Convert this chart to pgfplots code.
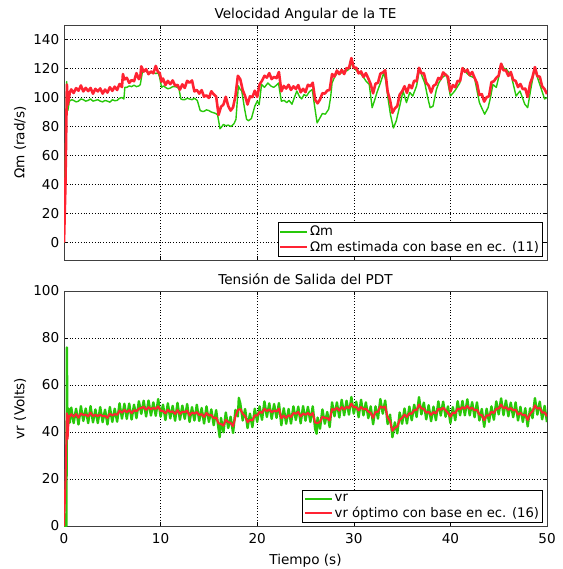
\documentclass[border=0pt]{standalone}
\usepackage{fontspec}
\setmainfont{DejaVu Sans}
\usepackage{pgfplots}
\pgfplotsset{compat=1.18}
\definecolor{cgreen}{RGB}{40,200,10}
\definecolor{cred}{RGB}{255,35,50}
\newcommand{\fs}{\fontsize{13.6}{16}\selectfont}
\newcommand{\fl}{\fontsize{13.2}{16}\selectfont}
\pgfplotsset{
  legend image code/.code={\draw[#1,line width=1.6pt] (0pt,0pt) -- (27pt,0pt);},
  myax/.style={
    scale only axis, width=483pt, height=235pt, xmin=0, xmax=50,
    xtick={0,10,...,50},
    grid=major,
    major grid style={black, line width=0.6pt, dash pattern=on 0.8pt off 2pt},
    axis line style={black!75, line width=0.9pt},
    tick style={black, line width=0.6pt}, major tick length=4pt,
    tick label style={font=\fs},
    xticklabel style={yshift=-3pt},
    /pgf/number format/assume math mode=true,
    label style={font=\fs},
    title style={font=\fs, at={(0.5,1)}, anchor=base, yshift=0pt},
    legend style={at={(1,0)}, anchor=south east, xshift=-4pt, yshift=3pt,
      draw=black, line width=0.8pt, font=\fl, inner sep=1.5pt, row sep=-1pt,
      cells={anchor=west}},
    ylabel style={at={(axis description cs:-0.091,0.5)}, anchor=center},
  }
}
\begin{document}
\fs
\begin{tikzpicture}
\begin{axis}[myax, at={(64pt,309pt)}, anchor=south west,
  ymin=-12, ymax=150, ytick={0,20,...,140}, xticklabels={},
  title={Velocidad Angular de la TE}, ylabel={Ωm (rad/s)}]
\addplot[cgreen, line width=1.4pt, line join=round] coordinates {
(0,0) (0.28,111) (0.4,91) (0.55,97.5) (0.8,98.5) (1.0,98) (1.25,97) (1.5,97.5) (1.75,99) (2.0,98.5) (2.25,97.5) (2.5,98) (2.75,99) (3.0,97.5) (3.25,98) (3.5,98.5) (3.75,97.5) (4.0,97) (4.25,98) (4.5,97.5) (4.75,96.8) (5.0,98.5) (5.25,97.8) (5.5,98) (5.75,99.5) (6.0,100) (6.2,99) (6.3,107) (6.5,107) (6.75,108) (7.0,107.5) (7.25,108.5) (7.5,107.5) (7.75,108) (7.9,109) (8.1,117) (8.3,118.5) (8.5,118) (8.75,117) (9.0,117) (9.25,117.5) (9.5,116.5) (9.75,117) (9.9,114) (10.1,107) (10.3,108) (10.5,107) (10.75,106) (11.0,106.5) (11.25,107.5) (11.5,107.5) (11.75,107) (11.9,106) (12.1,99) (12.3,98.5) (12.5,98.5) (12.75,99.5) (13.0,99) (13.25,98.5) (13.5,99.5) (13.8,98) (14.1,91) (14.3,90.5) (14.5,90.5) (14.75,91.5) (15.0,91) (15.25,90) (15.5,89.5) (15.7,89) (15.9,88) (16.15,78.5) (16.35,80) (16.5,81.5) (16.75,80.5) (17.0,81) (17.3,80) (17.6,82) (17.8,85) (18.05,108) (18.2,106) (18.4,104.5) (18.7,92) (18.9,85) (19.1,84) (19.4,85.5) (19.75,94) (20.0,97.5) (20.2,95) (20.45,109) (20.75,107) (21.1,110) (21.4,108) (21.7,107) (22.0,108.5) (22.2,110) (22.5,97.5) (22.8,98) (23.05,96.5) (23.3,98) (23.6,95.4) (23.85,100) (24.1,104.5) (24.35,101) (24.6,99) (24.85,102) (25.1,101) (25.4,104) (25.7,105.5) (25.9,96) (26.2,82.5) (26.5,86) (26.75,89) (27.05,88.5) (27.4,92) (27.6,100) (27.75,110) (28.0,114) (28.3,117) (28.6,116.5) (28.9,118) (29.3,118.5) (29.55,120) (29.8,124) (30.05,120) (30.35,118) (30.7,116.5) (31.0,114) (31.3,111) (31.6,109) (31.9,93) (32.15,98) (32.4,103.5) (32.75,110) (33.1,117) (33.3,112) (33.55,99) (33.8,88) (34.1,79) (34.4,84) (34.75,94) (35.1,104.5) (35.45,96.5) (35.8,103.5) (36.1,101) (36.5,108) (36.8,119.5) (37.05,115) (37.35,110) (37.65,100) (37.9,93) (38.2,94) (38.55,105.5) (38.8,110) (39.1,113.5) (39.6,116) (39.8,108) (40.0,101) (40.45,104.5) (40.97,110) (41.3,120.5) (41.65,117) (42.0,115) (42.5,113.5) (42.75,105) (43.0,96.5) (43.3,92) (43.55,88.5) (43.9,93) (44.15,100) (44.4,109) (44.75,107) (45.0,114) (45.3,123) (45.55,120) (45.8,119.5) (46.3,115) (46.55,108) (46.8,101) (47.2,104.5) (47.45,100) (47.7,95.4) (48.0,93) (48.3,105) (48.7,119.5) (49.0,114) (49.25,109) (49.5,104) (49.75,99) (50,100)
};
\addlegendentry{Ωm}
\addplot[cred, line width=2.6pt, line join=round] coordinates {
(0,0) (0.15,40) (0.3,109) (0.4,95) (0.6,103.5) (0.75,105.6) (1.0,103.1) (1.25,106.5) (1.5,104.7) (1.75,108.3) (2.0,104.2) (2.25,106.7) (2.5,104.4) (2.75,106.6) (3.0,102.6) (3.25,106) (3.5,104.2) (3.75,106.3) (4.0,102.7) (4.25,105.5) (4.5,103.4) (4.75,107.1) (5.0,104.6) (5.25,107.5) (5.5,105.2) (5.75,109.3) (6.0,107.2) (6.1,116.2) (6.25,112.4) (6.5,113.6) (6.75,110.1) (7.0,112) (7.25,111.2) (7.5,116.8) (7.75,112.7) (7.9,114.2) (8.0,121.5) (8.25,117.9) (8.5,119.6) (8.75,116.1) (9.0,118) (9.25,116.7) (9.5,121.8) (9.75,117.2) (9.9,117.2) (10.1,110.9) (10.25,113.1) (10.5,108.6) (10.75,111.5) (11.0,109.2) (11.25,111.8) (11.5,108.2) (11.75,108.7) (12.0,105.4) (12.25,109.1) (12.5,106.6) (12.75,111.5) (13.0,110.2) (13.25,111.8) (13.5,104.2) (13.75,105.2) (14.0,102.7) (14.25,105.1) (14.5,100.6) (14.75,101.5) (15.0,99.7) (15.25,104.3) (15.5,102.2) (15.75,100.7) (16.0,88) (16.25,93.6) (16.5,95.1) (16.75,100.5) (17.0,94.2) (17.25,91) (17.5,93.2) (17.75,101.2) (18.0,115) (18.25,112.6) (18.5,105.1) (18.75,101) (19.0,95.2) (19.25,100.8) (19.5,100.2) (19.75,104.7) (20.0,100.4) (20.25,109.1) (20.5,111.6) (20.75,115) (21.0,113.7) (21.25,116.8) (21.5,112.7) (21.75,114.2) (22.0,113.4) (22.25,117.6) (22.5,104.3) (22.75,108) (23.0,106.2) (23.25,108.8) (23.5,105.2) (23.75,107.7) (24.0,105.9) (24.25,108.6) (24.5,103.6) (24.75,106) (25.0,103.7) (25.25,108.8) (25.5,107.7) (25.75,110.2) (26.0,98.4) (26.25,96) (26.5,98.6) (26.75,103) (27.0,102.7) (27.25,104.8) (27.5,105.2) (27.75,116.2) (28.0,114.4) (28.25,118.6) (28.5,116.1) (28.75,119) (29.0,116.2) (29.25,120.3) (29.5,120.2) (29.75,127.2) (30.0,120.4) (30.25,120.6) (30.5,116.6) (30.75,118) (31.0,114.2) (31.25,116.8) (31.5,113.2) (31.75,109.2) (32.0,102.9) (32.25,109.6) (32.5,110.1) (32.75,116.5) (33.0,117.2) (33.25,118.8) (33.5,104.2) (33.75,98.2) (34.0,89.4) (34.25,92.6) (34.5,94.1) (34.75,102) (35.0,104.2) (35.25,107.8) (35.5,103.2) (35.75,108.7) (36.0,106.4) (36.25,111.6) (36.5,111.2) (36.75,120.5) (37.0,116.7) (37.25,116.8) (37.5,110.2) (37.75,108.2) (38.0,103.4) (38.25,108.1) (38.5,109.1) (38.75,113.5) (39.0,112.7) (39.25,117.3) (39.5,115.7) (39.75,114.2) (40.0,104.1) (40.25,108.6) (40.5,107.1) (40.75,111.5) (41.0,111.2) (41.25,120.3) (41.5,117.7) (41.75,119.2) (42.0,115.4) (42.25,117.6) (42.5,113.6) (42.75,110) (43.0,101.7) (43.25,102.3) (43.5,97.2) (43.75,100.2) (44.0,100.9) (44.25,110.6) (44.5,111.2) (44.75,113.6) (45.0,115.2) (45.25,123.3) (45.5,118.7) (45.75,118.7) (46.0,114.9) (46.25,117.6) (46.5,112.1) (46.75,111.5) (47.0,107.2) (47.25,109.3) (47.5,105.7) (47.75,106.2) (48.0,100.4) (48.25,109.6) (48.5,114.1) (48.75,121) (49.0,114.7) (49.25,114.4) (49.5,107.7) (49.75,105.8) (50.0,102.4)
};
\addlegendentry{Ωm estimada con base en ec. (11)}
\end{axis}
\begin{axis}[myax, at={(64pt,43pt)}, anchor=south west,
  ymin=0, ymax=100, ytick={0,20,...,100},
  title={Tensión de Salida del PDT}, ylabel={vr (Volts)}, xlabel={Tiempo (s)},
  xlabel style={at={(axis description cs:0.5,0)}, anchor=center, yshift=-35pt}]
\addplot[cgreen, line width=2.4pt, line join=round] coordinates {
(0,0) (0.25,0) (0.3,76) (0.35,38) (0.45,50) (0.6,44) (0.75,50.4) (1.0,43.8) (1.25,49.9) (1.5,43.2) (1.75,51.0) (2.0,44.7) (2.25,50.0) (2.5,43.8) (2.75,51.0) (3.0,44.1) (3.25,49.6) (3.5,43.8) (3.75,50.6) (4.0,44.2) (4.25,49.5) (4.5,43.2) (4.75,50.6) (5.0,44.3) (5.25,49.9) (5.5,44.4) (5.75,52.2) (6.0,45.7) (6.25,52.0) (6.5,45.6) (6.75,52.1) (7.0,45.3) (7.25,51.6) (7.5,45.9) (7.75,53.1) (8.0,47.7) (8.25,53.3) (8.5,46.6) (8.75,53.4) (9.0,47.0) (9.25,52.6) (9.5,46.9) (9.75,54.0) (10.0,46.5) (10.25,51.6) (10.5,45.1) (10.75,52.2) (11.0,45.8) (11.25,51.1) (11.5,44.8) (11.75,52.4) (12.0,45.2) (12.25,51.2) (12.5,45.6) (12.75,51.9) (13.0,44.3) (13.25,50.6) (13.5,44.9) (13.75,51.6) (14.0,44.7) (14.25,50.2) (14.5,43.6) (14.75,50.9) (15.0,44.3) (15.25,49.6) (15.5,42.9) (15.75,49.3) (16.0,41.2) (16.12,37.8) (16.25,46.0) (16.5,39.9) (16.75,48.3) (17.0,41.7) (17.25,46.5) (17.5,39.6) (17.75,49.4) (18.0,46.6) (18.1,54.5) (18.25,52.1) (18.5,44.9) (18.75,49.8) (19.0,41.7) (19.25,47.8) (19.5,42.1) (19.75,49.9) (20.0,44.3) (20.25,50.9) (20.5,45.2) (20.75,53.0) (21.0,46.4) (21.25,52.2) (21.5,45.6) (21.75,51.9) (22.0,46.0) (22.25,52.3) (22.5,42.9) (22.75,50.1) (23.0,43.5) (23.25,49.8) (23.5,43.6) (23.75,50.9) (24.0,45.1) (24.25,50.8) (24.5,43.7) (24.75,51.0) (25.0,44.8) (25.25,50.7) (25.5,44.3) (25.75,50.9) (26.0,41.3) (26.15,39.3) (26.25,46.1) (26.5,41.4) (26.75,49.6) (27.0,43.5) (27.25,48.5) (27.5,42.1) (27.75,52.6) (28.0,46.7) (28.25,52.6) (28.5,46.2) (28.75,53.7) (29.0,47.1) (29.25,53.3) (29.5,47.4) (29.75,54.9) (30.0,47.8) (30.25,52.9) (30.5,46.3) (30.75,53.7) (31.0,47.1) (31.25,52.6) (31.5,45.9) (31.75,50.9) (32.0,43.3) (32.25,50.9) (32.5,45.7) (32.75,54.0) (33.0,47.8) (33.25,53.4) (33.5,43.4) (33.75,47.4) (34.0,37.8) (34.25,44.1) (34.5,39.4) (34.75,48.3) (35.0,43.5) (35.25,50.0) (35.5,43.6) (35.75,50.8) (36.0,45.0) (36.25,51.6) (36.5,46.4) (36.75,54.8) (37.0,47.5) (37.25,52.5) (37.5,45.4) (37.75,51.4) (38.0,44.6) (38.25,50.8) (38.5,45.0) (38.75,53.0) (39.0,47.0) (39.25,52.9) (39.5,46.5) (39.75,50.9) (40.0,43.8) (40.25,50.6) (40.5,45.0) (40.75,53.1) (41.0,47.1) (41.25,53.2) (41.5,47.1) (41.75,53.9) (42.0,47.1) (42.25,52.7) (42.5,46.3) (42.75,52.6) (43.0,44.9) (43.25,49.8) (43.5,42.2) (43.75,49.9) (44.0,44.3) (44.25,50.9) (44.5,45.2) (44.75,53.0) (45.0,47.5) (45.25,54.3) (45.5,47.2) (45.75,53.4) (46.0,46.7) (46.25,52.5) (46.5,46.3) (46.75,52.6) (47.0,44.9) (47.25,50.7) (47.5,44.3) (47.75,50.1) (48.0,42.4) (48.25,50.1) (48.5,45.9) (48.75,54.4) (49.0,47.4) (49.25,52.9) (49.5,45.4) (49.75,51.1) (50.0,44.2)
};
\addlegendentry{vr}
\addplot[cred, line width=2pt, line join=round] coordinates {
(0,0) (0.15,18) (0.3,48) (0.37,37) (0.5,47) (0.6,46.5) (0.75,47.6) (1.0,46.5) (1.25,47.6) (1.5,46.1) (1.75,47.9) (2.0,47.2) (2.25,47.4) (2.5,46.6) (2.75,48.2) (3.0,46.8) (3.25,47.3) (3.5,46.7) (3.75,47.5) (4.0,46.7) (4.25,46.9) (4.5,46.0) (4.75,47.8) (5.0,47.0) (5.25,47.6) (5.5,47.3) (5.75,49.1) (6.0,48.2) (6.25,49.4) (6.5,48.4) (6.75,49.3) (7.0,48.0) (7.25,49.3) (7.5,48.8) (7.75,50.0) (8.0,50.2) (8.25,50.7) (8.5,49.4) (8.75,50.6) (9.0,49.7) (9.25,50.3) (9.5,49.8) (9.75,50.9) (10.0,49.0) (10.25,49.0) (10.5,47.9) (10.75,49.4) (11.0,48.5) (11.25,48.8) (11.5,47.7) (11.75,49.3) (12.0,47.7) (12.25,48.6) (12.5,48.4) (12.75,49.1) (13.0,47.0) (13.25,48.3) (13.5,47.8) (13.75,48.5) (14.0,47.2) (14.25,47.6) (14.5,46.4) (14.75,48.1) (15.0,47.0) (15.25,47.3) (15.5,45.8) (15.75,46.2) (16.0,43.7) (16.25,43.4) (16.5,42.7) (16.75,45.2) (17.0,44.2) (17.25,43.9) (17.5,42.4) (17.75,46.6) (18.0,49.3) (18.25,49.8) (18.5,47.8) (18.75,46.7) (19.0,44.2) (19.25,45.2) (19.5,44.9) (19.75,47.1) (20.0,47.0) (20.25,48.6) (20.5,48.1) (20.75,49.9) (21.0,48.9) (21.25,49.6) (21.5,48.4) (21.75,49.1) (22.0,48.7) (22.25,50.0) (22.5,45.8) (22.75,47.0) (23.0,46.0) (23.25,47.2) (23.5,46.4) (23.75,48.1) (24.0,47.8) (24.25,48.5) (24.5,46.6) (24.75,47.9) (25.0,47.3) (25.25,48.1) (25.5,47.1) (25.75,48.1) (26.0,44.0) (26.25,43.8) (26.5,44.3) (26.75,46.5) (27.0,46.0) (27.25,45.9) (27.5,44.9) (27.75,49.8) (28.0,49.4) (28.25,50.3) (28.5,49.1) (28.75,50.6) (29.0,49.6) (29.25,50.7) (29.5,50.2) (29.75,52.1) (30.0,50.5) (30.25,50.6) (30.5,49.2) (30.75,50.6) (31.0,49.6) (31.25,50.0) (31.5,48.7) (31.75,48.1) (32.0,46.0) (32.25,48.6) (32.5,48.6) (32.75,50.9) (33.0,50.3) (33.25,50.8) (33.5,46.2) (33.75,44.6) (34.0,40.5) (34.25,41.8) (34.5,42.3) (34.75,45.2) (35.0,46.0) (35.25,47.4) (35.5,46.4) (35.75,48.0) (36.0,47.7) (36.25,49.3) (36.5,49.3) (36.75,51.7) (37.0,50.0) (37.25,49.9) (37.5,48.2) (37.75,48.6) (38.0,47.3) (38.25,48.5) (38.5,47.9) (38.75,49.9) (39.0,49.5) (39.25,50.3) (39.5,49.3) (39.75,48.1) (40.0,46.5) (40.25,48.3) (40.5,47.9) (40.75,50.0) (41.0,49.6) (41.25,50.6) (41.5,49.9) (41.75,51.1) (42.0,49.8) (42.25,50.4) (42.5,49.2) (42.75,49.5) (43.0,47.4) (43.25,47.2) (43.5,45.0) (43.75,47.1) (44.0,47.0) (44.25,48.6) (44.5,48.1) (44.75,49.9) (45.0,50.0) (45.25,51.7) (45.5,50.0) (45.75,50.6) (46.0,49.4) (46.25,50.2) (46.5,49.2) (46.75,49.5) (47.0,47.4) (47.25,48.1) (47.5,47.1) (47.75,47.3) (48.0,45.1) (48.25,47.8) (48.5,48.8) (48.75,51.3) (49.0,49.9) (49.25,50.3) (49.5,48.2) (49.75,48.4) (50.0,46.7)
};
\addlegendentry{vr óptimo con base en ec. (16)}
\end{axis}
\pgfresetboundingbox
\path (0pt,0pt) rectangle (562pt,569pt);
\end{tikzpicture}
\end{document}
